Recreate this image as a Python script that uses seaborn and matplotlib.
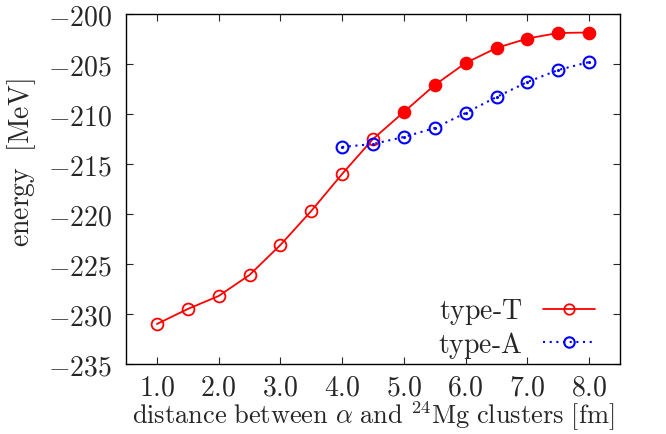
import numpy as np
import pandas as pd
import matplotlib
matplotlib.use("Agg")
import matplotlib.pyplot as plt
import seaborn as sns
from matplotlib.lines import Line2D
from matplotlib.ticker import FuncFormatter, FixedLocator

# ---- data ----
t_dist = [1.0, 1.5, 2.0, 2.5, 3.0, 3.5, 4.0, 4.5, 5.0, 5.5, 6.0, 6.5, 7.0, 7.5, 8.0]
t_energy = [-231.0, -229.5, -228.2, -226.1, -223.1, -219.7, -216.0, -212.5,
            -209.8, -207.1, -204.9, -203.4, -202.45, -201.9, -201.85]
t_filled = [False] * 8 + [True] * 7
a_dist = [4.0, 4.5, 5.0, 5.5, 6.0, 6.5, 7.0, 7.5, 8.0]
a_energy = [-213.3, -213.0, -212.3, -211.4, -209.9, -208.3, -206.8, -205.6, -204.8]
x_ticks = [1, 2, 3, 4, 5, 6, 7, 8]
y_ticks = [-235, -230, -225, -220, -215, -210, -205, -200]

dfT = pd.DataFrame({"dist": t_dist, "energy": t_energy, "filled": t_filled})
dfA = pd.DataFrame({"dist": a_dist, "energy": a_energy})

sns.set_style("ticks")
plt.rcParams["mathtext.fontset"] = "cm"
plt.rcParams["font.family"] = ["DejaVu Serif"]

fig = plt.figure(figsize=(6.66, 4.35), dpi=100)
ax = fig.add_axes([126 / 666, 1 - 365 / 435, (620 - 126) / 666, (365 - 15) / 435])

red = "#ff0000"
blue = "#0000ff"
ms = 8.5
fs = 20

sns.lineplot(data=dfT, x="dist", y="energy", ax=ax, color=red, lw=1.3, legend=False)
sns.lineplot(data=dfA, x="dist", y="energy", ax=ax, color=blue, lw=1.5,
             linestyle=(0, (1, 2.2)), legend=False)

ax.plot(dfT.loc[~dfT.filled, "dist"], dfT.loc[~dfT.filled, "energy"], ls="none",
        marker="o", ms=ms, mfc="none", mec=red, mew=1.3)
ax.plot(dfT.loc[dfT.filled, "dist"], dfT.loc[dfT.filled, "energy"], ls="none",
        marker="o", ms=ms, mfc=red, mec=red, mew=1.3)
ax.plot(dfA["dist"], dfA["energy"], ls="none", marker="o", ms=ms, mfc="none",
        mec=blue, mew=1.5)
ax.plot(dfA["dist"], dfA["energy"], ls="none", marker=".", ms=2.5, color=blue)

ax.set_xlim(0.5, 8.5)
ax.set_ylim(-235, -200)
ax.xaxis.set_major_locator(FixedLocator(x_ticks))
ax.yaxis.set_major_locator(FixedLocator(y_ticks))
ax.xaxis.set_major_formatter(FuncFormatter(lambda v, p: f"${v:.1f}$"))
ax.yaxis.set_major_formatter(FuncFormatter(lambda v, p: f"${v:.0f}$"))
ax.tick_params(direction="in", top=True, right=True, length=5, width=0.8,
               labelsize=fs)
ax.tick_params(axis="y", pad=10)
ax.tick_params(axis="x", pad=7)
for s in ax.spines.values():
    s.set_linewidth(1.0)
    s.set_color("black")

ax.set_xlabel(r"$\mathrm{distance\ between\ }\alpha\mathrm{\ and\ }^{24}\mathrm{Mg\ clusters\ [fm]}$",
              fontsize=19)
ax.xaxis.set_label_coords(0.5, -0.099)
ax.set_ylabel(r"$\mathrm{energy\ \ [MeV]}$", fontsize=fs)
ax.yaxis.set_label_coords(-0.178, 0.577)

hT = Line2D([], [], color=red, lw=1.3, marker="o", ms=7.5, mfc="none", mec=red, mew=1.3)
hA = Line2D([], [], color=blue, lw=1.5, ls=(0, (1, 2.2)), marker="o", ms=7.5,
            mfc="none", mec=blue, mew=1.5)
leg = ax.legend([hT, hA], [r"$\mathrm{type\text{-}T}$", r"$\mathrm{type\text{-}A}$"],
                loc="lower right", bbox_to_anchor=(1 - 25 / 494, 4 / 350),
                markerfirst=False, frameon=False,
                fontsize=fs, handlelength=1.87, handletextpad=0.75,
                borderaxespad=0.0, borderpad=0.0, labelspacing=0.1, numpoints=1)

fig.savefig("out.png", dpi=100)
